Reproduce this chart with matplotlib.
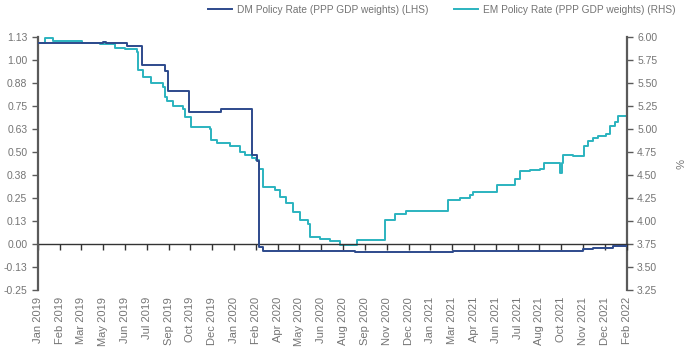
import matplotlib.pyplot as plt
import numpy as np
import pandas as pd

plt.rcParams['font.family'] = ['Liberation Sans', 'DejaVu Sans']

# DM policy rate (left axis), step changes
dm_dates = ['2019-01-01', '2019-05-06', '2019-05-13', '2019-06-22', '2019-07-20',
            '2019-09-03', '2019-09-09', '2019-10-19', '2019-12-20', '2020-02-17',
            '2020-02-27', '2020-03-03', '2020-03-10', '2020-05-15', '2020-09-02',
            '2021-03-11', '2021-11-16', '2021-12-06', '2022-01-13', '2022-02-08']
dm_rate = [1.09, 1.10, 1.092, 1.078, 0.973,
           0.942, 0.833, 0.719, 0.732, 0.484,
           0.45, -0.014, -0.036, -0.039, -0.042,
           -0.040, -0.027, -0.020, -0.011, -0.011]

# EM policy rate (right axis)
em_dates = ['2019-01-01', '2019-01-15', '2019-01-31', '2019-03-27', '2019-05-01',
            '2019-05-30', '2019-06-18', '2019-07-11', '2019-07-13', '2019-07-23',
            '2019-08-08', '2019-08-30', '2019-09-03', '2019-09-06', '2019-09-18',
            '2019-10-08', '2019-10-12', '2019-10-24', '2019-11-29', '2019-12-01',
            '2019-12-12', '2020-01-06', '2020-01-26', '2020-02-04', '2020-02-18',
            '2020-02-25', '2020-03-02', '2020-03-10', '2020-04-02', '2020-04-11',
            '2020-04-23', '2020-05-07', '2020-05-20', '2020-06-04', '2020-06-08',
            '2020-06-28', '2020-07-17', '2020-08-05', '2020-09-06', '2020-10-31',
            '2020-11-19', '2020-12-11', '2021-03-01', '2021-03-24', '2021-04-12',
            '2021-04-19', '2021-06-03', '2021-07-08', '2021-07-18', '2021-08-06',
            '2021-08-25', '2021-09-01', '2021-10-03', '2021-10-06', '2021-10-09',
            '2021-10-28', '2021-11-17', '2021-11-26', '2021-12-05', '2021-12-15',
            '2021-12-31', '2022-01-07', '2022-01-16', '2022-01-23', '2022-02-08']
em_rate = [5.93, 5.99, 5.96, 5.93, 5.925,
           5.88, 5.87, 5.84, 5.64, 5.57,
           5.50, 5.46, 5.35, 5.30, 5.25,
           5.22, 5.13, 5.02, 5.00, 4.88,
           4.85, 4.81, 4.75, 4.72, 4.68,
           4.66, 4.57, 4.37, 4.34, 4.26,
           4.20, 4.10, 4.01, 3.97, 3.83,
           3.80, 3.78, 3.74, 3.79, 4.01,
           4.08, 4.11, 4.23, 4.25, 4.28,
           4.32, 4.39, 4.46, 4.54, 4.55,
           4.57, 4.63, 4.52, 4.63, 4.72,
           4.71, 4.81, 4.87, 4.90, 4.92,
           4.95, 5.03, 5.08, 5.14, 5.15]

x_labels = ['Jan 2019', 'Feb 2019', 'Mar 2019', 'May 2019', 'Jun 2019', 'Jul 2019',
            'Sep 2019', 'Oct 2019', 'Dec 2019', 'Jan 2020', 'Feb 2020', 'Apr 2020',
            'May 2020', 'Jun 2020', 'Aug 2020', 'Sep 2020', 'Nov 2020', 'Dec 2020',
            'Jan 2021', 'Mar 2021', 'Apr 2021', 'Jun 2021', 'Jul 2021', 'Aug 2021',
            'Oct 2021', 'Nov 2021', 'Dec 2021', 'Feb 2022']
left_ticks = [-0.25, -0.125, 0.0, 0.125, 0.25, 0.375, 0.5, 0.625, 0.75, 0.875, 1.0, 1.125]
left_labels = ['-0.25', '-0.13', '0.00', '0.13', '0.25', '0.38', '0.50', '0.63',
               '0.75', '0.88', '1.00', '1.13']
right_ticks = [3.25, 3.5, 3.75, 4.0, 4.25, 4.5, 4.75, 5.0, 5.25, 5.5, 5.75, 6.0]

dm_x = pd.to_datetime(dm_dates)
em_x = pd.to_datetime(em_dates)
tick_x = pd.date_range('2019-01-01', periods=len(x_labels), freq='42D')

grey = '#747474'
spine_c = '#5a5a5a'
dm_c = '#2d4a8c'
em_c = '#2bb3bf'

fig = plt.figure(figsize=(6.87, 3.54), dpi=100)
ax = fig.add_axes([0.0549, 0.181, 0.8573, 0.7145])
ax2 = ax.twinx()

l1, = ax.plot(dm_x, dm_rate, drawstyle='steps-post', color=dm_c, lw=1.4,
              label='DM Policy Rate (PPP GDP weights) (LHS)', zorder=3)
l2, = ax2.plot(em_x, em_rate, drawstyle='steps-post', color=em_c, lw=1.4,
               label='EM Policy Rate (PPP GDP weights) (RHS)', zorder=2)
ax.set_zorder(ax2.get_zorder() + 1)
ax.patch.set_visible(False)

ax.set_xlim(tick_x[0], tick_x[-1])
ax.set_ylim(-0.25, 1.125)
ax2.set_ylim(3.25, 6.0)

ax.set_yticks(left_ticks)
ax.set_yticklabels(left_labels)
ax2.set_yticks(right_ticks)
ax2.set_yticklabels(['%.2f' % v for v in right_ticks])

ax.set_xticks(tick_x)
ax.set_xticklabels(x_labels, rotation=90)
ax.tick_params(axis='x', length=0, pad=5, labelsize=8, labelcolor=grey)
ax.tick_params(axis='y', length=4, width=1, color=spine_c, labelsize=7.5, labelcolor=grey)
ax2.tick_params(axis='y', length=4, width=1, color=spine_c, labelsize=7.5, labelcolor=grey)

for s in ['top', 'bottom', 'right']:
    ax.spines[s].set_visible(False)
for s in ['top', 'bottom', 'left']:
    ax2.spines[s].set_visible(False)
ax.spines['left'].set_color(spine_c)
ax.spines['left'].set_linewidth(1.6)
ax2.spines['right'].set_color(spine_c)
ax2.spines['right'].set_linewidth(1.6)

# zero line with tick marks
zx = ax.secondary_xaxis(0.25 / 1.375)
zx.set_xticks(tick_x)
zx.set_xticklabels([''] * len(tick_x))
zx.tick_params(axis='x', direction='out', length=4, width=1, color='#333333')
zx.spines['bottom'].set_color('#333333')
zx.spines['bottom'].set_linewidth(1)

ax2.set_ylabel('%', rotation=-90, fontsize=8, color=grey, labelpad=18)

fig.legend(handles=[l1, l2], loc='center', bbox_to_anchor=(0.643, 0.972), ncol=2,
           frameon=False, fontsize=7.3, labelcolor=grey, handlelength=2.3,
           handletextpad=0.5, columnspacing=2.6)

plt.savefig('out.png', dpi=100)
